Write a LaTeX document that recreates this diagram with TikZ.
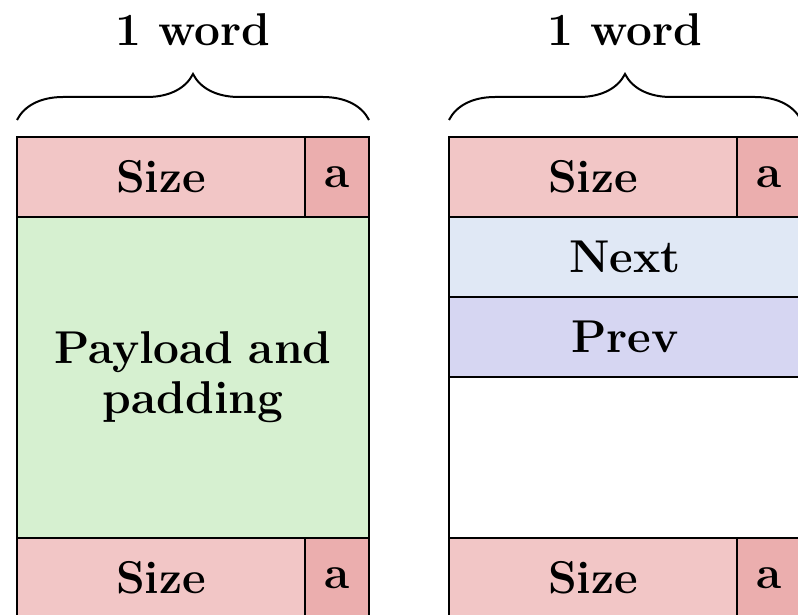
\documentclass[tikz,border=0pt]{standalone}
\usepackage{tikz}
\usetikzlibrary{positioning, decorations.pathreplacing}
\definecolor{sizepink}{RGB}{242, 198, 198}
\definecolor{flagpink}{RGB}{235, 174, 174}
\definecolor{payloadgreen}{RGB}{214, 240, 208}
\definecolor{nextblue}{RGB}{224, 232, 245}
\definecolor{prevlilac}{RGB}{214, 214, 242}

\begin{document}
\begin{tikzpicture}[font=\fontsize{23}{25}\selectfont\bfseries, line width=1pt,
    cell/.style={draw, inner sep=0pt, outer sep=0pt, minimum height=40pt},
    sizecell/.style={cell, fill=sizepink, minimum width=144pt},
    flagcell/.style={cell, fill=flagpink, minimum width=32pt},
    wordcell/.style={cell, minimum width=176pt},
    wordbrace/.style={decorate, decoration={brace, amplitude=23pt}}]
    \useasboundingbox (0,0) rectangle (399pt,-307.5pt);

    % allocated block
    \node[sizecell, anchor=north west] (lsize) at (8.5pt,-68.5pt) {Size};
    \node[flagcell, right=0pt of lsize] (lflag) {a};
    \node[wordcell, fill=payloadgreen, minimum height=160.5pt, text width=160pt, align=center, below=0pt of lsize.south west, anchor=north west] (lpay) {Payload and\\padding};
    \node[sizecell, below=0pt of lpay.south west, anchor=north west] (lfoot) {Size};
    \node[flagcell, right=0pt of lfoot] (lfootflag) {a};

    % free block
    \node[sizecell, right=40pt of lflag.north east, anchor=north west] (rsize) {Size};
    \node[flagcell, right=0pt of rsize] (rflag) {a};
    \node[wordcell, fill=nextblue, below=0pt of rsize.south west, anchor=north west] (rnext) {Next};
    \node[wordcell, fill=prevlilac, below=0pt of rnext.south west, anchor=north west] (rprev) {Prev};
    \node[wordcell, fill=white, minimum height=80.5pt, below=0pt of rprev.south west, anchor=north west] (rfree) {};
    \node[sizecell, below=0pt of rfree.south west, anchor=north west] (rfoot) {Size};
    \node[flagcell, right=0pt of rfoot] (rfootflag) {a};

    % word width braces
    \draw[wordbrace] ([yshift=8.5pt]lsize.north west) -- ([yshift=8.5pt]lflag.north east)
        node[midway, yshift=45pt] {1 word};
    \draw[wordbrace] ([yshift=8.5pt]rsize.north west) -- ([yshift=8.5pt]rflag.north east)
        node[midway, yshift=45pt] {1 word};
\end{tikzpicture}
\end{document}
